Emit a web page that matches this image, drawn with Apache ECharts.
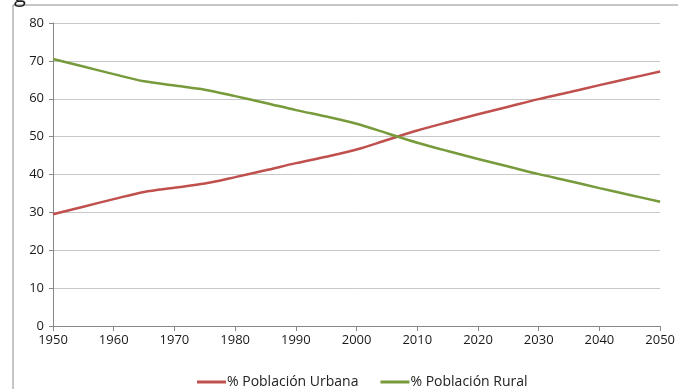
<!DOCTYPE html>
<html><head><meta charset="utf-8">
<script src="https://cdn.jsdelivr.net/npm/echarts@6/dist/echarts.min.js"></script>
<style>html,body{margin:0;padding:0;background:#fff}#c{width:678px;height:389px}</style>
</head><body><div id="c"></div>
<script>
const years = [1950,1955,1960,1965,1970,1975,1980,1985,1990,1995,2000,2005,2010,2015,2020,2025,2030,2035,2040,2045,2050];
const urbana = [29.5,31.5,33.5,35.4,36.5,37.6,39.3,41.1,43.0,44.7,46.6,49.1,51.6,53.8,55.9,57.9,59.9,61.7,63.6,65.4,67.2];
const rural = [70.5,68.5,66.5,64.6,63.5,62.4,60.7,58.9,57.0,55.3,53.4,50.9,48.4,46.2,44.1,42.1,40.1,38.3,36.4,34.6,32.8];
const seriesNames = ['% Población Urbana','% Población Rural'];
const font = 'Open Sans, Liberation Sans, sans-serif';
const chart = echarts.init(document.getElementById('c'), null, {renderer:'canvas'});
chart.setOption({
  animation:false,
  backgroundColor:'#fff',
  graphic:[
    {type:'rect', shape:{x:13,y:5,width:700,height:400}, style:{fill:'none', stroke:'#8c8c8c', lineWidth:1}, z:-1},
    {type:'text', left:14, top:-15, style:{text:'g', font:'22px '+font, fill:'#222'}}
  ],
  grid:{left:53,right:17,top:23,bottom:63},
  legend:{top:370,left:192,itemWidth:29,itemHeight:3,itemGap:22,icon:'rect',
    textStyle:{fontFamily:font,fontSize:14,color:'#222',padding:[0,0,0,-4]},data:seriesNames},
  xAxis:{type:'value',min:1950,max:2050,interval:10,
    axisLine:{lineStyle:{color:'#888'}},axisTick:{show:true,length:5,lineStyle:{color:'#888'}},
    axisLabel:{color:'#1a1a1a',fontFamily:font,fontSize:13,margin:8,formatter:v=>String(v)},
    splitLine:{show:false}},
  yAxis:{type:'value',min:0,max:80,interval:10,
    axisLine:{show:true,lineStyle:{color:'#888'}},axisTick:{show:true,length:4,lineStyle:{color:'#888'}},
    axisLabel:{color:'#1a1a1a',fontFamily:font,fontSize:13,margin:9},
    splitLine:{lineStyle:{color:'#c8c8c8',width:1}}},
  series:[
    {name:seriesNames[0],type:'line',smooth:0.3,symbol:'none',data:years.map((y,i)=>[y,urbana[i]]),
      lineStyle:{color:'#c0504d',width:2.5},itemStyle:{color:'#c0504d'}},
    {name:seriesNames[1],type:'line',smooth:0.3,symbol:'none',data:years.map((y,i)=>[y,rural[i]]),
      lineStyle:{color:'#779a3a',width:2.5},itemStyle:{color:'#779a3a'}}
  ]
});
</script></body></html>
